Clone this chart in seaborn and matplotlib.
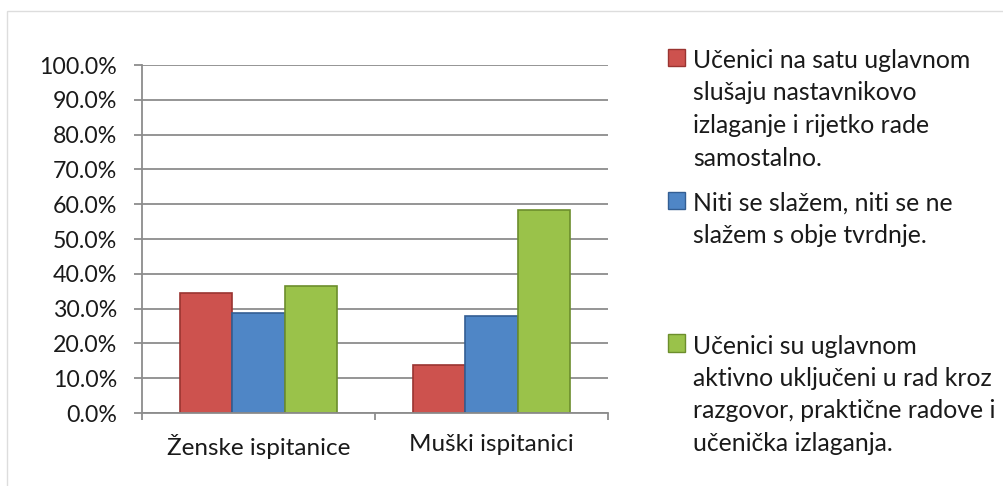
import matplotlib
matplotlib.use("Agg")
import matplotlib.pyplot as plt
import seaborn as sns
import pandas as pd
from matplotlib.patches import Rectangle
from matplotlib.ticker import FuncFormatter, FixedLocator

# data
groups = ["Ženske ispitanice", "Muški ispitanici"]
answers = [
    "Učenici na satu uglavnom\nslušaju nastavnikovo\nizlaganje i rijetko rade\nsamostalno.",
    "Niti se slažem, niti se ne\nslažem s obje tvrdnje.\n\n",
    "Učenici su uglavnom\naktivno uključeni u rad kroz\nrazgovor, praktične radove i\nučenička izlaganja.",
]
zenske = [34.6, 28.8, 36.6]
muski = [13.9, 27.9, 58.2]
colors = ["#CD524E", "#4F86C6", "#9AC24A"]
edges = ["#9A3431", "#335E93", "#6C8E2C"]

df = pd.DataFrame({
    "grupa": [groups[0]] * 3 + [groups[1]] * 3,
    "odgovor": answers * 2,
    "udio": zenske + muski,
})

sns.set_style("white")
plt.rcParams["font.family"] = ["Lato", "DejaVu Sans"]

fig = plt.figure(figsize=(10.04, 4.86), dpi=100)
ax = fig.add_axes([142 / 1004, 1 - 413 / 486, 466 / 1004, 348 / 486])

sns.barplot(data=df, x="grupa", y="udio", hue="odgovor", hue_order=answers,
            palette=colors, saturation=1, width=0.67, gap=0, ax=ax, legend=True)

# darker outline per series
for cont, ec in zip(ax.containers, edges):
    for bar in cont:
        bar.set_edgecolor(ec)
        bar.set_linewidth(1.2)

ax.set_ylim(0, 100)
ax.set_xlim(-0.5, 1.5)
ax.set_yticks(range(0, 101, 10))
ax.yaxis.set_major_formatter(FuncFormatter(lambda v, p: f"{v:.1f}%"))
ax.grid(axis="y", color="#8C8C8C", lw=1.3)
ax.set_axisbelow(True)
ax.set_xlabel("")
ax.set_ylabel("")

for s in ["top", "right"]:
    ax.spines[s].set_visible(False)
for s in ["left", "bottom"]:
    ax.spines[s].set_color("#8C8C8C")
    ax.spines[s].set_linewidth(1.3)

ax.tick_params(axis="y", length=6, width=1.3, color="#8C8C8C", pad=12,
               labelsize=16.7, labelcolor="#1a1a1a", left=True)
ax.tick_params(axis="x", which="major", length=0, pad=15, labelsize=17.5,
               labelcolor="#1a1a1a")
ax.xaxis.set_minor_locator(FixedLocator([-0.5, 0.5, 1.5]))
ax.tick_params(axis="x", which="minor", length=5, width=1.3,
               color="#8C8C8C", bottom=True)

leg = ax.legend(loc="upper left", bbox_to_anchor=(668 / 1004, 1 - 49 / 486),
                bbox_transform=fig.transFigure, frameon=False, fontsize=17.8,
                handlelength=0.7, handleheight=0.7, handletextpad=0.3,
                labelspacing=0.9, borderpad=0, borderaxespad=0)
for t in leg.get_texts():
    t.set_linespacing(1.5)
    t.set_color("#1a1a1a")
for h, ec in zip(leg.legend_handles, edges):
    h.set_edgecolor(ec)
# put the square next to the first line of each label
for hp in leg._legend_handle_box.get_children()[0].get_children():
    hp.align = "top"

# faint chart-area border
fig.patches.append(Rectangle((7 / 1004, -0.1), 1.2, 1 - 11 / 486 + 0.1,
                             transform=fig.transFigure, fill=False,
                             ec="#DDDDDD", lw=1))

fig.savefig("out.png", dpi=100)
